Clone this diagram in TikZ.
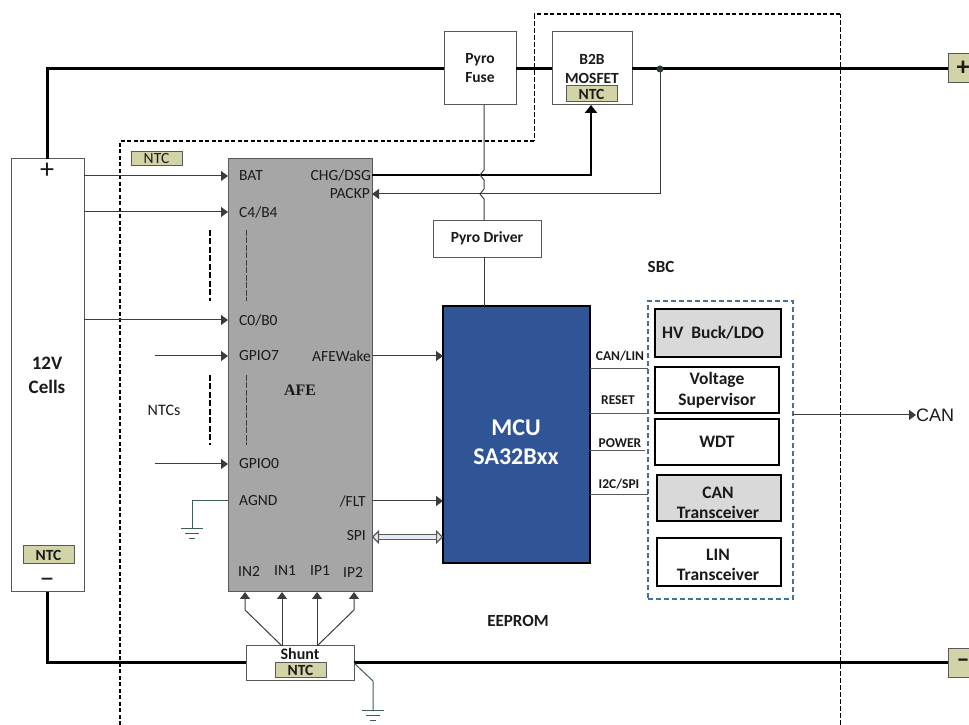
\documentclass[tikz,border=0pt]{standalone}
\usepackage{fontspec}
\usepackage{xcolor}
\setmainfont{Carlito}
\newfontfamily\arialfont{Liberation Sans}
\newfontfamily\timesfont{Liberation Serif}
\usetikzlibrary{arrows.meta, positioning}
\definecolor{ink}{HTML}{1A1A1A}
\definecolor{edgeA}{HTML}{595959}
\definecolor{afeA}{HTML}{A6A6A6}
\definecolor{grayA}{HTML}{D9D9D9}
\definecolor{ntcA}{HTML}{D2D3A6}
\definecolor{mcuA}{HTML}{2F5597}
\definecolor{sbcB}{HTML}{41719C}
\definecolor{gndB}{HTML}{3E5F4E}
\definecolor{spiA}{HTML}{E4ECF7}
\tikzset{
  pinlabel/.style={font=\fontsize{15.5}{17}\selectfont, text=ink, inner sep=0pt},
  buslabel/.style={font=\bfseries\fontsize{13.5}{15}\selectfont, text=ink, inner sep=0pt},
  plainlabel/.style={font=\bfseries\fontsize{17}{19}\selectfont, text=ink, inner sep=0pt},
  box/.style={draw=edgeA, line width=1pt, fill=white, inner sep=0pt, outer sep=0pt, align=center, anchor=north west, font=\bfseries\fontsize{15.5}{19}\selectfont, text=ink},
  ntcbox/.style={box, fill=ntcA, font=\bfseries\fontsize{15.5}{15.5}\selectfont},
  sbcitem/.style={box, draw=black, line width=1.8pt, font=\bfseries\fontsize{17.5}{20.5}\selectfont},
  sbcgray/.style={sbcitem, fill=grayA},
  sbctext/.style={inner sep=0pt, align=center, text=ink, font=\bfseries\fontsize{17.5}{20.5}\selectfont},
  powerline/.style={line width=3pt, draw=black},
  sigline/.style={line width=1pt, draw=ink!85},
  pinarrow/.style={sigline, -{Triangle[length=7pt,width=10pt]}},
  zoneline/.style={line width=1.6pt, dash pattern=on 4pt off 2.5pt, draw=black},
  zonethin/.style={line width=0.9pt, dash pattern=on 5pt off 2pt, draw=black},
  gndline/.style={line width=1pt, draw=gndB}
}
\newcommand{\gndsym}[1]{
  \draw[gndline] ([xshift=-11pt]#1) -- ([xshift=11pt]#1);
  \draw[gndline] ([xshift=-7pt,yshift=-5pt]#1) -- ([xshift=7pt,yshift=-5pt]#1);
  \draw[gndline] ([xshift=-3pt,yshift=-10pt]#1) -- ([xshift=3pt,yshift=-10pt]#1);
}

\begin{document}
\begin{tikzpicture}[x=1pt,y=1pt]
\useasboundingbox (0,0) rectangle (969,725);

% boxes
\node[box, minimum width=73pt, minimum height=433pt] (cells) at (11,566) {};
\node[box, minimum width=72pt, minimum height=73pt] (pyrofuse) at (444,693) {Pyro\\Fuse};
\node[box, minimum width=80pt, minimum height=73pt] (b2b) at (552,693) {B2B\\MOSFET};
\node[box, minimum width=108pt, minimum height=37pt, line width=0.8pt] (pyrodriver) at (433,505) {Pyro Driver};
\node[box, fill=afeA, minimum width=144pt, minimum height=433pt] (afe) at (228,566) {};
\node[box, fill=mcuA, draw=black, line width=2.5pt, minimum width=147pt, minimum height=257pt] (mcu) at (443,419) {};
\node[inner sep=0pt, align=center, text=white, font=\bfseries\fontsize{24}{29}\selectfont] (mcuname) at (516,283) {MCU\\SA32Bxx};
\node[box, minimum width=108pt, minimum height=35pt, font=\bfseries\fontsize{16}{17}\selectfont] (shunt) at (246,79) {Shunt\\[3pt]~};

\node[ntcbox, minimum width=51pt, minimum height=16pt] (ntcb2b) at (566,639) {NTC};
\node[ntcbox, minimum width=51pt, minimum height=14pt, font=\fontsize{15.5}{15.5}\selectfont] (ntczone) at (131,573) {NTC};
\node[ntcbox, minimum width=51pt, minimum height=18pt] (ntccells) at (23,179) {NTC};
\node[ntcbox, minimum width=51pt, minimum height=15pt] (ntcshunt) at (275,62) {NTC};

\node[box, fill=ntcA, minimum width=30pt, minimum height=29pt, font=\bfseries\fontsize{26}{26}\selectfont] (plusterm) at (948,671) {+};
\node[box, fill=ntcA, minimum width=30pt, minimum height=29pt, font=\bfseries\fontsize{26}{26}\selectfont] (minusterm) at (948,76) {--};

% SBC
\node[box, fill=none, draw=sbcB, line width=1.6pt, dash pattern=on 5pt off 3pt, minimum width=145pt, minimum height=298pt] (sbc) at (648,424) {};
\node[sbcgray, minimum width=126pt, minimum height=48pt] (buck) at (655,416) {HV\ \ Buck/LDO\hspace*{10pt}};
\node[sbcitem, minimum width=124pt, minimum height=46pt] (supervisor) at (655,358) {Voltage\\Supervisor};
\node[sbcitem, minimum width=124pt, minimum height=46pt] (wdt) at (655,306) {WDT};
\node[sbcgray, minimum width=124pt, minimum height=46pt] (cantrx) at (657,250) {};
\node[sbctext] (cantrxname) at (718,222) {CAN\\Transceiver};
\node[sbcitem, minimum width=124pt, minimum height=48pt] (lintrx) at (657,187) {};
\node[sbctext] (lintrxname) at (718,160) {LIN\\Transceiver};

% labels
\node[font=\bfseries\fontsize{19}{24}\selectfont, text=ink, align=center] (cellname) at (47,350) {12V\\Cells};
\node[plainlabel, font=\fontsize{28}{28}\selectfont] (cellplus) at (47,554) {+};
\node[plainlabel, font=\fontsize{30}{30}\selectfont] (cellminus) at (47,142) {--};
\node[pinlabel, font=\fontsize{16}{18}\selectfont] (ntcslabel) at (164,315) {NTCs};
\node[font=\timesfont\bfseries\fontsize{16}{18}\selectfont, text=ink, inner sep=0pt] (afename) at (300,335) {AFE};
\node[plainlabel] (sbclabel) at (661,458) {SBC};
\node[plainlabel] (eeprom) at (518,104) {EEPROM};

\node[pinlabel, anchor=west] (batpin) at (239,549) {BAT};
\node[pinlabel, anchor=west] (c4pin) at (239,513) {C4/B4};
\node[pinlabel, anchor=west] (c0pin) at (239,405) {C0/B0};
\node[pinlabel, anchor=west] (gpio7pin) at (239,369) {GPIO7};
\node[pinlabel, anchor=west] (gpio0pin) at (239,261) {GPIO0};
\node[pinlabel, anchor=west] (agndpin) at (239,224) {AGND};
\node[pinlabel, anchor=east] (chgpin) at (371,550) {CHG/DSG};
\node[pinlabel, anchor=east] (packpin) at (370,531) {PACKP};
\node[pinlabel, anchor=east] (wakepin) at (371,369) {AFEWake};
\node[pinlabel, anchor=east] (fltpin) at (366,224) {/FLT};
\node[pinlabel, anchor=east] (spipin) at (366,189) {SPI};
\node[pinlabel] (in2pin) at (249,154) {IN2};
\node[pinlabel] (in1pin) at (285,154) {IN1};
\node[pinlabel] (ip1pin) at (320,154) {IP1};
\node[pinlabel] (ip2pin) at (353,153) {IP2};

\node[buslabel] (canlin) at (620,369) {CAN/LIN};
\node[buslabel] (resetlabel) at (618,325) {RESET};
\node[buslabel] (powerlabel) at (620,282) {POWER};
\node[buslabel] (i2clabel) at (619,241) {I2C/SPI};
\node[font=\arialfont\fontsize{18}{20}\selectfont, text=ink, inner sep=0pt, anchor=west] (canout) at (916,310) {CAN};

\coordinate (junction) at (660,656);
\coordinate (packcorner) at (660,531);
\coordinate (chgcorner) at (591,550);
\coordinate (gndafe) at (192,196);
\coordinate (gndshunt) at (373,14);
\coordinate (shuntbend) at (373,44);
\coordinate (in2bend) at (245,115);
\coordinate (ip2bend) at (354,115);
\coordinate (plustop) at (47,656);
\coordinate (minusbot) at (47,62);

% boundary of the pack
\draw[zoneline] (840,711) -- (534,711);
\draw[zonethin] (840,0) -- (840,711);
\draw[zonethin] (534,711) -- (534,584);
\draw[zoneline] (534,584) -- (120,584) -- (120,0);

% power path
\draw[powerline] (cells.north -| plustop) -- (plustop) -- (pyrofuse.west |- plustop);
\draw[powerline] (pyrofuse.east |- plustop) -- (b2b.west |- plustop);
\draw[powerline] (b2b.east |- plustop) -- (plusterm.west |- plustop);
\draw[powerline] (cells.south -| minusbot) -- (minusbot) -- (shunt.west |- minusbot);
\draw[powerline] (shunt.east |- minusbot) -- (minusterm.west |- minusbot);
\fill[gndB!60!black] (junction) circle (3.5pt);

% afe inputs
\draw[pinarrow] (cells.east |- batpin) -- (afe.west |- batpin);
\draw[pinarrow] (cells.east |- c4pin) -- (afe.west |- c4pin);
\draw[pinarrow] (cells.east |- c0pin) -- (afe.west |- c0pin);
\draw[pinarrow] (155,369) -- (afe.west |- gpio7pin);
\draw[pinarrow] (155,261) -- (afe.west |- gpio0pin);
\draw[line width=2pt, dash pattern=on 6pt off 2.5pt] (210,495) -- (210,424);
\draw[line width=2pt, dash pattern=on 6pt off 2.5pt] (210,350) -- (210,280);
\draw[sigline, line width=0.7pt, dash pattern=on 6pt off 1.5pt] (246,495) -- (246,424);
\draw[sigline, line width=0.7pt, dash pattern=on 6pt off 1.5pt] (246,350) -- (246,280);

% ground of the afe
\draw[gndline] (afe.west |- agndpin) -| (gndafe);
\gndsym{gndafe}
\draw[gndline] (shunt.east |- minusbot) -- (shuntbend) -- (gndshunt);
\gndsym{gndshunt}

% drive and sense
\draw[powerline, line width=2.2pt, -{Triangle[length=8pt,width=12pt]}] (afe.east |- chgpin) -- (chgcorner) -- (chgcorner |- b2b.south);
\draw[pinarrow] (junction) -- (packcorner) -- (afe.east |- packcorner);
\draw[sigline] (pyrofuse.south -| 484,0) -- (484,555) -- (480,550) -- (484,545) -- (484,536) -- (480,531) -- (484,526) -- (pyrodriver.north -| 484,0);
\draw[sigline] (pyrodriver.south -| 484,0) -- (mcu.north -| 484,0);

% afe to mcu
\draw[pinarrow] (afe.east |- wakepin) -- (mcu.west |- wakepin);
\draw[pinarrow] (afe.east |- fltpin) -- (mcu.west |- fltpin);
\draw[{Triangle[open,fill=spiA,length=7pt,width=14pt]}-{Triangle[open,fill=spiA,length=7pt,width=14pt]}, draw=edgeA, line width=1.2pt, double=spiA, double distance=4pt] (afe.east |- 0,188) -- (mcu.west |- 0,188);

% short buses
\draw[sigline, draw=edgeA] (mcu.east |- 0,356) -- (sbc.west |- 0,356);
\draw[sigline, draw=edgeA] (mcu.east |- 0,311) -- (sbc.west |- 0,311);
\draw[sigline, draw=edgeA] (mcu.east |- 0,274) -- (645,274);
\draw[sigline, draw=edgeA] (mcu.east |- 0,230) -- (sbc.west |- 0,230);

% can out
\draw[pinarrow] (sbc.east |- canout) -- (canout.west);

% shunt sense
\draw[pinarrow] (282,79) -- (in2bend) -- (afe.south -| in2bend);
\draw[pinarrow] (282,79) -- (afe.south -| 282,0);
\draw[pinarrow] (317,79) -- (afe.south -| 317,0);
\draw[pinarrow] (317,79) -- (ip2bend) -- (afe.south -| ip2bend);

\end{tikzpicture}
\end{document}
